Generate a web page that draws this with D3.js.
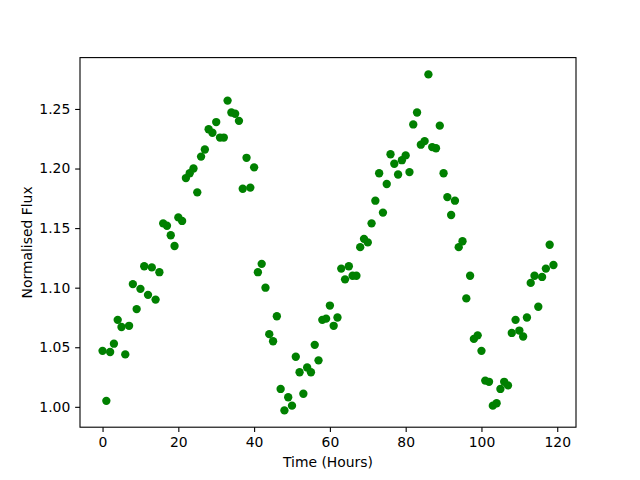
<!DOCTYPE html>
<html>
<head>
<meta charset="utf-8">
<script src="https://cdn.jsdelivr.net/npm/d3@7"></script>
<style>
  html, body { margin: 0; padding: 0; background: #fff; }
  svg { display: block; }
  text { font-family: "DejaVu Sans", sans-serif; }
</style>
</head>
<body>
<svg id="chart" width="640" height="480"></svg>
<script>
// Time in hours (one reading per hour)
const hours = d3.range(0, 120);
// Normalised flux
const flux = [
  1.047, 1.005, 1.046, 1.053, 1.073, 1.067, 1.044, 1.068, 1.103, 1.082,
  1.099, 1.118, 1.094, 1.117, 1.090, 1.113, 1.154, 1.152, 1.144, 1.135,
  1.159, 1.156, 1.192, 1.196, 1.200, 1.180, 1.210, 1.216, 1.233, 1.230,
  1.239, 1.226, 1.226, 1.257, 1.247, 1.246, 1.240, 1.183, 1.209, 1.184,
  1.201, 1.113, 1.120, 1.100, 1.061, 1.055, 1.076, 1.015, 0.997, 1.008,
  1.001, 1.042, 1.029, 1.011, 1.033, 1.029, 1.052, 1.039, 1.073, 1.074,
  1.085, 1.068, 1.075, 1.116, 1.107, 1.118, 1.110, 1.110, 1.134, 1.141,
  1.138, 1.154, 1.173, 1.196, 1.163, 1.187, 1.212, 1.204, 1.195, 1.207,
  1.211, 1.197, 1.237, 1.247, 1.220, 1.223, 1.279, 1.218, 1.217, 1.236,
  1.196, 1.176, 1.161, 1.173, 1.134, 1.139, 1.091, 1.110, 1.057, 1.060,
  1.047, 1.022, 1.021, 1.001, 1.003, 1.015, 1.021, 1.018, 1.062, 1.073,
  1.064, 1.059, 1.075, 1.104, 1.110, 1.084, 1.109, 1.116, 1.136, 1.119
];
const xTicks = [0, 20, 40, 60, 80, 100, 120];
const yTicks = [1.00, 1.05, 1.10, 1.15, 1.20, 1.25];
const xLabel = "Time (Hours)";
const yLabel = "Normalised Flux";

(function () {
  const data = hours.map((h, i) => ({ x: h, y: flux[i] }));

  const svg = d3.select("#chart");
  const pLeft = 80, pRight = 576, pTop = 57.6, pBottom = 427.2;

  function padded(ext) {
    const m = (ext[1] - ext[0]) * 0.05;
    return [ext[0] - m, ext[1] + m];
  }

  const x = d3.scaleLinear().domain(padded(d3.extent(hours))).range([pLeft, pRight]);
  const y = d3.scaleLinear().domain(padded(d3.extent(flux))).range([pBottom, pTop]);

  const fontSize = 13.9;
  const tickLen = 4.86;

  // points
  svg.append("g")
    .selectAll("circle")
    .data(data)
    .enter().append("circle")
    .attr("cx", d => x(d.x))
    .attr("cy", d => y(d.y))
    .attr("r", 4.17)
    .attr("fill", "#008000");

  // frame
  svg.append("rect")
    .attr("x", pLeft).attr("y", pTop)
    .attr("width", pRight - pLeft).attr("height", pBottom - pTop)
    .attr("fill", "none").attr("stroke", "#000").attr("stroke-width", 1.1);

  // x axis
  const xAxis = d3.axisBottom(x).tickValues(xTicks).tickSize(tickLen).tickPadding(4.86).tickFormat(d3.format("d"));
  const gx = svg.append("g").attr("transform", `translate(0,${pBottom})`).call(xAxis);
  gx.select(".domain").remove();
  gx.selectAll("line").attr("stroke", "#000").attr("stroke-width", 1.1);
  gx.selectAll("text").attr("font-size", fontSize).attr("fill", "#000")
    .attr("font-family", "DejaVu Sans, sans-serif");

  // y axis
  const yAxis = d3.axisLeft(y).tickValues(yTicks).tickSize(tickLen).tickPadding(4.86).tickFormat(d3.format(".2f"));
  const gy = svg.append("g").attr("transform", `translate(${pLeft},0)`).call(yAxis);
  gy.select(".domain").remove();
  gy.selectAll("line").attr("stroke", "#000").attr("stroke-width", 1.1);
  gy.selectAll("text").attr("font-size", fontSize).attr("fill", "#000")
    .attr("font-family", "DejaVu Sans, sans-serif");

  // axis labels
  svg.append("text")
    .attr("x", (pLeft + pRight) / 2).attr("y", 467)
    .attr("text-anchor", "middle").attr("font-size", fontSize).attr("fill", "#000")
    .text(xLabel);

  svg.append("text")
    .attr("transform", `translate(31.5,${(pTop + pBottom) / 2}) rotate(-90)`)
    .attr("text-anchor", "middle").attr("font-size", fontSize).attr("fill", "#000")
    .text(yLabel);
})();
</script>
</body>
</html>
